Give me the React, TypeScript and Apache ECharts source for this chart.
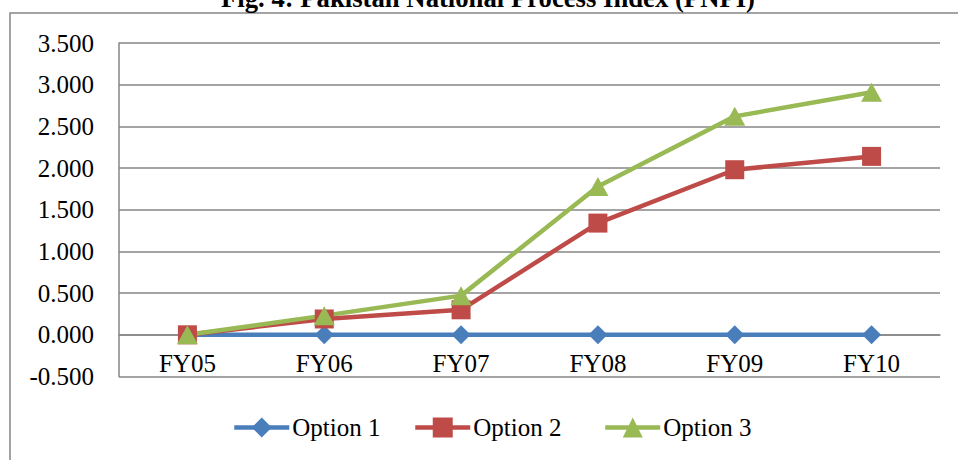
import React, { useEffect, useRef } from "react";
import * as echarts from "echarts";

const categories = ["FY05", "FY06", "FY07", "FY08", "FY09", "FY10"];
const option1 = [0, 0, 0, 0, 0, 0];
const option2 = [0, 0.19, 0.3, 1.34, 1.98, 2.14];
const option3 = [0, 0.23, 0.47, 1.78, 2.62, 2.91];
const seriesNames = ["Option 1", "Option 2", "Option 3"];
const titleText = "Fig. 4: Pakistan National Process Index (PNPI)";

const FONT = "'Liberation Serif', 'Times New Roman', serif";
const GRID = "#868686";

export default function App() {
  const ref = useRef<HTMLDivElement>(null);
  useEffect(() => {
    if (!ref.current) return;
    const chart = echarts.init(ref.current, undefined, { renderer: "svg" });
    const mk = (name: string, data: number[], color: string, symbol: string, size: any) => ({
      name,
      type: "line",
      data,
      symbol,
      symbolSize: size,
      showSymbol: true,
      lineStyle: { color, width: 4.5 },
      itemStyle: { color, borderWidth: 0 },
      emphasis: { disabled: true },
    });
    const plotTop = 43;
    const plotBottom = 376.5;
    const zeroY = plotBottom - (plotBottom - plotTop) * (0.5 / 4);
    const legendLefts = [232, 413, 603];
    chart.setOption({
      animation: false,
      backgroundColor: "#ffffff",
      graphic: [
        {
          type: "rect",
          shape: { x: 10, y: 13, width: 980, height: 480 },
          style: { fill: "none", stroke: GRID, lineWidth: 1.5 },
          silent: true,
        },
        {
          type: "text",
          x: 488,
          y: -2.5,
          style: {
            text: titleText,
            font: `bold 26.7px ${FONT}`,
            fill: "#000",
            align: "center",
            verticalAlign: "middle",
          },
          silent: true,
        },
      ],
      legend: seriesNames.map((n, i) => ({
        left: legendLefts[i],
        top: 415,
        padding: 0,
        itemWidth: 55,
        itemHeight: 25,
        itemGap: 0,
        lineStyle: { width: 4.5 },
        textStyle: { fontFamily: FONT, fontSize: 25, color: "#000", padding: [0, 0, 0, -2] },
        data: [n],
      })),
      grid: { left: 119, right: 18, top: plotTop, bottom: 460 - plotBottom, containLabel: false },
      xAxis: {
        type: "category",
        data: categories,
        boundaryGap: true,
        offset: -(plotBottom - zeroY),
        axisLine: { show: true, onZero: false, lineStyle: { color: GRID, width: 1.5 } },
        axisTick: { show: false },
        axisLabel: { fontFamily: FONT, fontSize: 25, color: "#000", margin: 16.5 },
        splitLine: { show: false },
      },
      yAxis: {
        type: "value",
        min: -0.5,
        max: 3.5,
        interval: 0.5,
        axisLine: { show: true, lineStyle: { color: GRID, width: 1.5 } },
        axisTick: { show: false },
        axisLabel: {
          fontFamily: FONT,
          fontSize: 25,
          color: "#000",
          margin: 25,
          formatter: (v: number) => v.toFixed(3),
        },
        splitLine: { show: true, lineStyle: { color: GRID, width: 1.5 } },
      },
      series: [
        mk(seriesNames[0], option1, "#4A7EBB", "diamond", 19),
        mk(seriesNames[1], option2, "#BE4B48", "rect", 19),
        mk(seriesNames[2], option3, "#98B954", "triangle", [21, 19]),
      ],
    });
    return () => chart.dispose();
  }, []);
  return (
    <div
      ref={ref}
      style={{ position: "fixed", left: 0, top: 0, width: 958, height: 460, background: "#fff" }}
    />
  );
}
